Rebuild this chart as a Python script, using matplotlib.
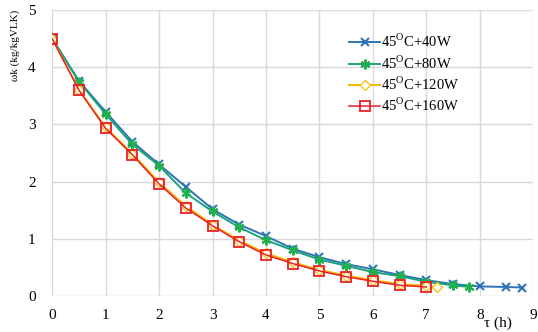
import matplotlib.pyplot as plt

plt.rcParams["font.family"] = ["Liberation Serif", "DejaVu Serif"]
plt.rcParams["mathtext.fontset"] = "custom"
plt.rcParams["mathtext.rm"] = "Liberation Serif"

# drying time (h) and moisture content for each run
t_40 = [0, 0.5, 1, 1.5, 2, 2.5, 3, 3.5, 4, 4.5, 5, 5.5, 6, 6.5, 7, 7.5, 8, 8.5, 8.8]
w_40 = [4.5, 3.76, 3.22, 2.70, 2.30, 1.91, 1.52, 1.25, 1.05, 0.83, 0.68, 0.56,
        0.47, 0.37, 0.28, 0.21, 0.17, 0.16, 0.15]

t_80 = [0, 0.5, 1, 1.5, 2, 2.5, 3, 3.5, 4, 4.5, 5, 5.5, 6, 6.5, 7, 7.5, 7.8]
w_80 = [4.5, 3.75, 3.18, 2.65, 2.28, 1.80, 1.48, 1.20, 0.98, 0.80, 0.64, 0.53,
        0.42, 0.35, 0.25, 0.19, 0.16]

t_120 = [0, 0.5, 1, 1.5, 2, 2.5, 3, 3.5, 4, 4.5, 5, 5.5, 6, 6.5, 7, 7.2]
w_120 = [4.5, 3.61, 2.95, 2.49, 1.99, 1.57, 1.25, 0.97, 0.75, 0.59, 0.46, 0.36,
         0.28, 0.21, 0.18, 0.16]

t_160 = [0, 0.5, 1, 1.5, 2, 2.5, 3, 3.5, 4, 4.5, 5, 5.5, 6, 6.5, 7]
w_160 = [4.5, 3.6, 2.93, 2.47, 1.96, 1.54, 1.23, 0.95, 0.72, 0.57, 0.44, 0.34,
         0.26, 0.19, 0.16]

fig = plt.figure(figsize=(5.38, 3.32), dpi=100)
ax = fig.add_axes([0.097, 0.108, 0.894, 0.862])

ax.plot(t_40, w_40, color="#2e75b6", lw=1.4, marker="x", ms=6, mew=1.5,
        label="45$^\\mathregular{O}$C+40W")
ax.plot(t_80, w_80, color="#1aa37a", lw=1.4, marker=(6, 2, 0), ms=7, mew=1.5,
        mec="#22b14c", label="45$^\\mathregular{O}$C+80W")
ax.plot(t_120, w_120, color="#f5b800", lw=1.4, marker="D", ms=5, mfc="white",
        mec="#f5c518", label="45$^\\mathregular{O}$C+120W")
ax.plot(t_160, w_160, color="#e8202a", lw=1.1, marker="s", ms=7, mfc="none",
        mew=1.3, label="45$^\\mathregular{O}$C+160W")

ax.set_xlim(0, 9)
ax.set_ylim(0, 5)
ax.set_xticks(range(0, 10))
ax.set_yticks(range(0, 6))
ax.grid(True, color="#d9d9d9", lw=1)
ax.set_axisbelow(True)
for s in ax.spines.values():
    s.set_visible(False)
ax.tick_params(axis="x", length=0, labelsize=11, pad=9)
ax.tick_params(axis="y", length=0, labelsize=11, pad=12)

ax.set_ylabel("ωk (kg/kgVLK)", fontsize=8, loc="top", labelpad=6)
ax.text(8.35, -0.47, "τ (h)", fontsize=11, ha="center", va="center")

ax.legend(loc="upper left", bbox_to_anchor=(0.625, 0.94),
          bbox_transform=fig.transFigure, fontsize=10.5, frameon=False,
          handlelength=2.1, handletextpad=0.1, labelspacing=0.28)

fig.savefig("out.png", dpi=100)
